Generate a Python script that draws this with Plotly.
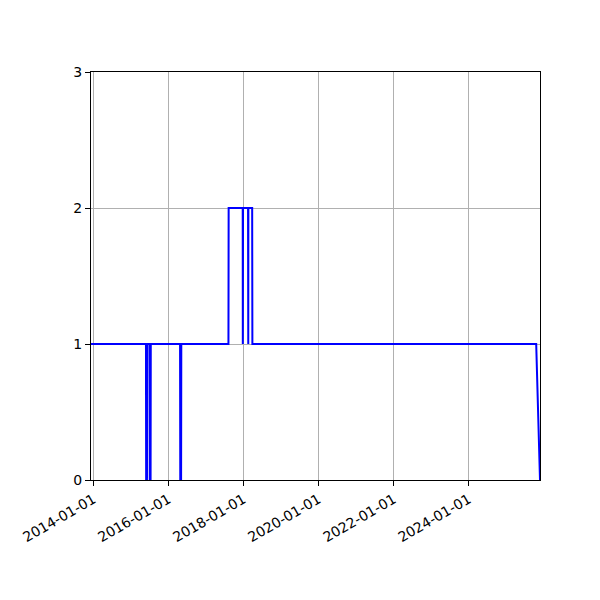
import plotly.graph_objects as go

# dates where the count changes (pairs of close dates make the near-vertical steps)
dates = [
    "2013-12-08", "2015-05-27", "2015-05-29", "2015-06-06", "2015-06-08",
    "2015-07-01", "2015-07-03", "2015-07-11", "2015-07-13",
    "2016-04-23", "2016-04-25", "2016-05-03", "2016-05-05",
    "2017-08-07", "2017-08-09",
    "2017-12-24", "2017-12-25", "2017-12-26", "2017-12-27",
    "2018-02-14", "2018-02-15", "2018-02-16", "2018-02-17",
    "2018-03-26", "2018-03-28",
    "2025-10-20", "2025-11-26",
]
counts = [
    1, 1, 0, 0, 1,
    1, 0, 0, 1,
    1, 0, 0, 1,
    1, 2,
    2, 1, 1, 2,
    2, 1, 1, 2,
    2, 1,
    1, 0,
]

x_ticks = ["2014-01-01", "2016-01-01", "2018-01-01", "2020-01-01", "2022-01-01", "2024-01-01"]
y_ticks = [0, 1, 2, 3]

fig = go.Figure()
fig.add_trace(go.Scatter(x=dates, y=counts, mode="lines",
                         line=dict(color="blue", width=2), showlegend=False))

axis_style = dict(showline=True, mirror=True, linecolor="black", linewidth=1,
                  ticks="outside", ticklen=5, tickcolor="black",
                  showgrid=True, gridcolor="#b0b0b0", gridwidth=0.8,
                  zeroline=False, tickfont=dict(family="DejaVu Sans", size=14, color="black"))

fig.update_xaxes(type="date", range=[dates[0], dates[-1]], tickvals=x_ticks,
                 ticktext=x_ticks, tickangle=-30, **axis_style)
fig.update_yaxes(range=[0, 3], tickvals=y_ticks, **axis_style)

# page body adds 8px, so margins are trimmed to keep the plot box in place
fig.update_layout(width=600, height=600, plot_bgcolor="white", paper_bgcolor="white",
                  margin=dict(l=83, r=68, t=64, b=128),
                  font=dict(family="DejaVu Sans", size=14, color="black"))

fig.write_html("out.html")
